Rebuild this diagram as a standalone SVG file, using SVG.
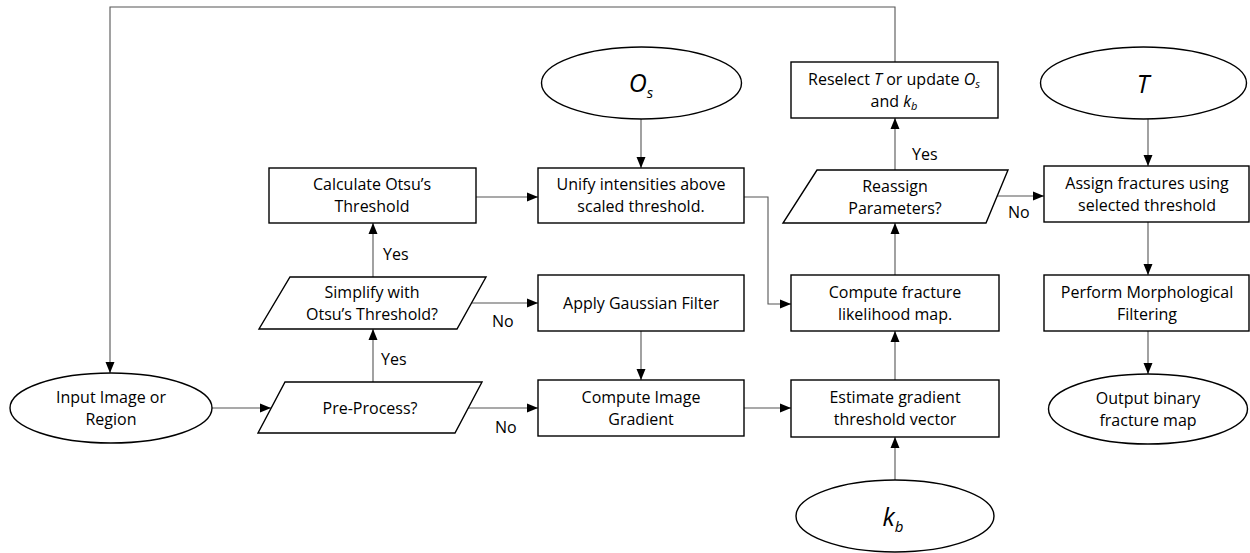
<svg xmlns="http://www.w3.org/2000/svg" width="1250" height="553" viewBox="0 0 1250 553">
  <style>
    .box { fill: #ffffff; stroke: #000000; stroke-width: 1.4; }
    .conn { fill: none; stroke: #555555; stroke-width: 1.1; }
    .t { font-family: "Open Sans", "Liberation Sans", sans-serif; font-size: 16px; fill: #000000; text-anchor: middle; }
    .lbl { font-family: "Open Sans", "Liberation Sans", sans-serif; font-size: 16px; fill: #000000; }
    .sym { font-family: "Open Sans", "Liberation Sans", sans-serif; font-style: italic; font-size: 25px; fill: #000000; text-anchor: middle; }
    .sub { font-size: 15px; }
  </style>
  <defs>
    <marker id="arrow" markerUnits="userSpaceOnUse" markerWidth="11" markerHeight="11" viewBox="0 0 11 11" refX="11" refY="5.5" orient="auto">
      <path d="M0,1 L11,5.5 L0,10 Z" fill="#000000"/>
    </marker>
  </defs>
  <rect width="1250" height="553" fill="#ffffff"/>

  <!-- connectors -->
  <g id="connectors">
    <polyline class="conn" points="895,62 895,7 110,7 110,373" marker-end="url(#arrow)"/>
    <line class="conn" x1="212" y1="408" x2="271" y2="408" marker-end="url(#arrow)"/>
    <line class="conn" x1="373" y1="382" x2="373" y2="329" marker-end="url(#arrow)"/>
    <line class="conn" x1="373" y1="277" x2="373" y2="223" marker-end="url(#arrow)"/>
    <line class="conn" x1="476" y1="197" x2="538" y2="197" marker-end="url(#arrow)"/>
    <line class="conn" x1="641" y1="119" x2="641" y2="168" marker-end="url(#arrow)"/>
    <line class="conn" x1="472" y1="303" x2="538" y2="303" marker-end="url(#arrow)"/>
    <line class="conn" x1="641" y1="331" x2="641" y2="380" marker-end="url(#arrow)"/>
    <line class="conn" x1="468" y1="408" x2="538" y2="408" marker-end="url(#arrow)"/>
    <polyline class="conn" points="744,197 768,197 768,304 791,304" marker-end="url(#arrow)"/>
    <line class="conn" x1="744" y1="408" x2="791" y2="408" marker-end="url(#arrow)"/>
    <line class="conn" x1="895" y1="480" x2="895" y2="437" marker-end="url(#arrow)"/>
    <line class="conn" x1="895" y1="380" x2="895" y2="331" marker-end="url(#arrow)"/>
    <line class="conn" x1="895" y1="275" x2="895" y2="223" marker-end="url(#arrow)"/>
    <line class="conn" x1="895" y1="170" x2="895" y2="118" marker-end="url(#arrow)"/>
    <line class="conn" x1="996" y1="196" x2="1044" y2="196" marker-end="url(#arrow)"/>
    <line class="conn" x1="1148" y1="119" x2="1148" y2="166" marker-end="url(#arrow)"/>
    <line class="conn" x1="1148" y1="222" x2="1148" y2="275" marker-end="url(#arrow)"/>
    <line class="conn" x1="1148" y1="331" x2="1148" y2="374" marker-end="url(#arrow)"/>

    <text class="lbl" x="383" y="260">Yes</text>
    <text class="lbl" x="381" y="365">Yes</text>
    <text class="lbl" x="912" y="160">Yes</text>
    <text class="lbl" x="492" y="327">No</text>
    <text class="lbl" x="495" y="433">No</text>
    <text class="lbl" x="1008" y="218">No</text>
  </g>

  <!-- nodes -->
  <g id="input">
    <ellipse class="box" cx="111" cy="408" rx="101" ry="35"/>
    <text class="t" x="111" y="403">Input Image or</text>
    <text class="t" x="111" y="425">Region</text>
  </g>

  <g id="preprocess">
    <polygon class="box" points="285,382 482,382 455,433 258,433"/>
    <text class="t" x="370" y="414">Pre-Process?</text>
  </g>

  <g id="simplify">
    <polygon class="box" points="290,277 486,277 457,329 259,329"/>
    <text class="t" x="372" y="298">Simplify with</text>
    <text class="t" x="372" y="320">Otsu’s Threshold?</text>
  </g>

  <g id="otsu">
    <rect class="box" x="269" y="168" width="207" height="55"/>
    <text class="t" x="372" y="190">Calculate Otsu’s</text>
    <text class="t" x="372" y="212">Threshold</text>
  </g>

  <g id="os">
    <ellipse class="box" cx="641.5" cy="83" rx="100" ry="36"/>
    <text class="sym" x="641" y="92">O<tspan class="sub" dy="6">s</tspan></text>
  </g>

  <g id="unify">
    <rect class="box" x="538" y="168" width="206" height="55"/>
    <text class="t" x="641" y="190">Unify intensities above</text>
    <text class="t" x="641" y="212">scaled threshold.</text>
  </g>

  <g id="gaussian">
    <rect class="box" x="538" y="275" width="206" height="56"/>
    <text class="t" x="641" y="309">Apply Gaussian Filter</text>
  </g>

  <g id="gradient">
    <rect class="box" x="538" y="380" width="206" height="56"/>
    <text class="t" x="641" y="403">Compute Image</text>
    <text class="t" x="641" y="425">Gradient</text>
  </g>

  <g id="estimate">
    <rect class="box" x="791" y="380" width="208" height="57"/>
    <text class="t" x="895" y="403">Estimate gradient</text>
    <text class="t" x="895" y="425">threshold vector</text>
  </g>

  <g id="kb">
    <ellipse class="box" cx="895" cy="516" rx="99" ry="36"/>
    <text class="sym" x="893" y="526">k<tspan class="sub" dy="6">b</tspan></text>
  </g>

  <g id="likelihood">
    <rect class="box" x="791" y="275" width="208" height="56"/>
    <text class="t" x="895" y="298">Compute fracture</text>
    <text class="t" x="895" y="320">likelihood map.</text>
  </g>

  <g id="reassign">
    <polygon class="box" points="817,170 1008,170 986,223 783,223"/>
    <text class="t" x="895" y="192">Reassign</text>
    <text class="t" x="895" y="214">Parameters?</text>
  </g>

  <g id="reselect">
    <rect class="box" x="791" y="62" width="207" height="56"/>
    <text class="t" x="894" y="85">Reselect <tspan font-style="italic">T</tspan> or update <tspan font-style="italic">O</tspan><tspan font-style="italic" font-size="11px" dy="3">s</tspan></text>
    <text class="t" x="894" y="107">and <tspan font-style="italic">k</tspan><tspan font-style="italic" font-size="11px" dy="3">b</tspan></text>
  </g>

  <g id="t-param">
    <ellipse class="box" cx="1143.5" cy="83" rx="103" ry="36"/>
    <text class="sym" x="1143" y="93">T</text>
  </g>

  <g id="assign">
    <rect class="box" x="1044" y="166" width="205" height="56"/>
    <text class="t" x="1147" y="189">Assign fractures using</text>
    <text class="t" x="1147" y="211">selected threshold</text>
  </g>

  <g id="morph">
    <rect class="box" x="1044" y="275" width="205" height="56"/>
    <text class="t" x="1147" y="298">Perform Morphological</text>
    <text class="t" x="1147" y="320">Filtering</text>
  </g>

  <g id="output">
    <ellipse class="box" cx="1148" cy="409" rx="99.5" ry="35"/>
    <text class="t" x="1148" y="404">Output binary</text>
    <text class="t" x="1148" y="426">fracture map</text>
  </g>
</svg>
